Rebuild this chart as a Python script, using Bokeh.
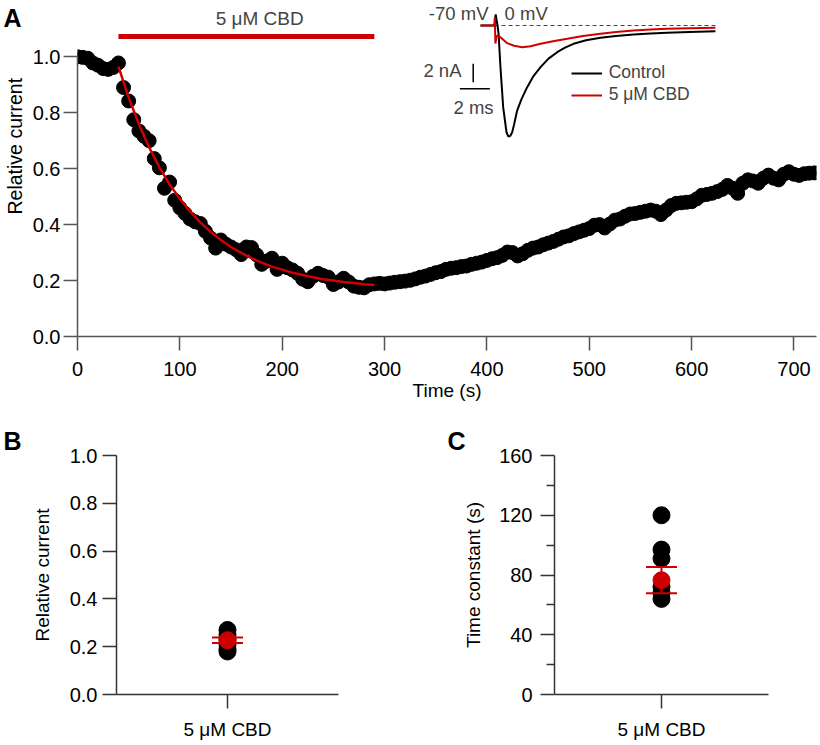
import math
from bokeh.plotting import figure
from bokeh.layouts import row, column
from bokeh.models import (Range1d, FixedTicker, Label, Legend, LegendItem, Whisker,
                          TeeHead, ColumnDataSource, NumeralTickFormatter, FactorRange)
from bokeh.core.properties import value
from bokeh.embed import file_html
from bokeh.resources import INLINE

# ---------------- data ----------------
time_s = [0, 5, 10, 15, 20, 25, 30, 35, 40, 45,
          50, 55, 60, 65, 70, 75, 80, 85, 90, 95,
          100, 105, 110, 115, 120, 125, 130, 135, 140, 145,
          150, 155, 160, 165, 170, 175, 180, 185, 190, 195,
          200, 205, 210, 215, 220, 225, 230, 235, 240, 245,
          250, 255, 260, 265, 270, 275, 280, 285, 290, 295,
          300, 305, 310, 315, 320, 325, 330, 335, 340, 345,
          350, 355, 360, 365, 370, 375, 380, 385, 390, 395,
          400, 405, 410, 415, 420, 425, 430, 435, 440, 445,
          450, 455, 460, 465, 470, 475, 480, 485, 490, 495,
          500, 505, 510, 515, 520, 525, 530, 535, 540, 545,
          550, 555, 560, 565, 570, 575, 580, 585, 590, 595,
          600, 605, 610, 615, 620, 625, 630, 635, 640, 645,
          650, 655, 660, 665, 670, 675, 680, 685, 690, 695,
          700, 705, 710, 715, 720]
rel_current = [1.000, 0.998, 0.995, 0.978, 0.970, 0.958, 0.955, 0.962, 0.978, 0.890,
               0.842, 0.775, 0.735, 0.716, 0.700, 0.636, 0.603, 0.530, 0.552, 0.487,
               0.460, 0.440, 0.420, 0.410, 0.404, 0.376, 0.352, 0.316, 0.345, 0.330,
               0.320, 0.310, 0.293, 0.320, 0.318, 0.292, 0.258, 0.270, 0.280, 0.240,
               0.262, 0.246, 0.238, 0.226, 0.205, 0.196, 0.215, 0.226, 0.218, 0.212,
               0.186, 0.195, 0.208, 0.195, 0.180, 0.176, 0.174, 0.185, 0.188, 0.190,
               0.188, 0.191, 0.194, 0.196, 0.198, 0.201, 0.206, 0.212, 0.216, 0.222,
               0.228, 0.232, 0.240, 0.244, 0.246, 0.250, 0.252, 0.258, 0.262, 0.266,
               0.272, 0.278, 0.282, 0.290, 0.302, 0.300, 0.288, 0.296, 0.308, 0.316,
               0.320, 0.328, 0.334, 0.340, 0.348, 0.356, 0.360, 0.368, 0.374, 0.380,
               0.386, 0.398, 0.400, 0.388, 0.402, 0.416, 0.420, 0.430, 0.438, 0.440,
               0.444, 0.448, 0.452, 0.448, 0.436, 0.452, 0.468, 0.476, 0.478, 0.480,
               0.482, 0.492, 0.505, 0.508, 0.512, 0.518, 0.526, 0.540, 0.530, 0.512,
               0.548, 0.560, 0.556, 0.548, 0.566, 0.577, 0.566, 0.560, 0.580, 0.589,
               0.580, 0.576, 0.582, 0.584, 0.585]

fit_time_s = [40, 50, 60, 70, 80, 90, 100, 110, 120, 130, 140, 150, 160,
              170, 180, 190, 200, 210, 220, 230, 240, 250, 260, 270, 280, 290]
fit_current = [0.965, 0.854, 0.759, 0.676, 0.605, 0.544, 0.492, 0.447, 0.408,
               0.374, 0.345, 0.320, 0.299, 0.280, 0.264, 0.250, 0.239, 0.228,
               0.220, 0.212, 0.205, 0.200, 0.195, 0.191, 0.187, 0.184]

cbd_application_s = [40, 290]
cbd_label = "5 μM CBD"

x_ticks = [0, 100, 200, 300, 400, 500, 600, 700]
y_ticks = [0.0, 0.2, 0.4, 0.6, 0.8, 1.0]

# inset current traces (ms, nA)
control_t_ms = [-0.93, 0.0, 0.08, 0.2, 0.27, 0.4, 0.58, 0.8, 0.93, 1.05, 1.18, 1.3,
                1.51, 1.8, 2.18, 2.6, 3.07, 3.6, 4.18, 4.7, 5.27, 6.1, 7.07, 8.1,
                9.27, 10.4, 11.5, 13.0, 14.73]
control_nA = [0.0, 0.0, 1.2, 0.0, -0.87, -4.57, -8.9, -11.6, -12.07, -12.0, -11.6,
              -10.8, -9.24, -8.0, -6.7, -5.5, -4.53, -3.6, -2.9, -2.4, -1.99, -1.6,
              -1.34, -1.14, -0.98, -0.87, -0.79, -0.7, -0.62]
cbd_t_ms = [-0.93, 0.0, 0.02, 0.06, 0.15, 0.4, 0.85, 1.3, 1.85, 2.4, 3.07, 3.9,
            4.85, 5.9, 7.07, 8.1, 9.27, 10.4, 11.5, 13.0, 14.73]
cbd_nA = [0.0, 0.0, 0.87, -1.96, -1.1, -1.27, -1.92, -2.2, -2.36, -2.25, -1.99,
          -1.7, -1.45, -1.15, -0.9, -0.7, -0.54, -0.44, -0.36, -0.3, -0.25]
scale_bar_ms = 2
scale_bar_nA = 2

# panels B and C
category = ["5 μM CBD"]
b_values = [0.27, 0.25, 0.23, 0.21, 0.19, 0.18]
b_mean = 0.227
b_sem = 0.012
b_ticks = [0.0, 0.2, 0.4, 0.6, 0.8, 1.0]

c_values = [120, 97, 91, 72, 68, 64]
c_mean = 76.5
c_sem = 8.8
c_major = [0, 40, 80, 120, 160]
c_minor = [20, 60, 100, 140]

# ---------------- style ----------------
FONT = "Liberation Sans"
RED = "#d00000"
DOT_RED = "#cc0000"
AX = "#555555"
FS = "19px"
TFS = "20px"


def style_axis(ax, standoff=6, label_standoff=6, color=AX):
    ax.axis_line_color = color
    ax.axis_line_width = 1.5
    ax.major_tick_line_color = color
    ax.major_tick_line_width = 1.5
    ax.minor_tick_line_color = color
    ax.minor_tick_line_width = 1.5
    ax.major_tick_out = 14
    ax.major_tick_in = 0
    ax.minor_tick_in = 0
    ax.minor_tick_out = 0
    ax.major_label_text_font = FONT
    ax.major_label_text_font_size = TFS
    ax.major_label_text_color = "black"
    ax.axis_label_text_font = FONT
    ax.axis_label_text_font_size = FS
    ax.axis_label_text_font_style = "normal"
    ax.axis_label_text_color = "black"
    ax.major_label_standoff = standoff
    ax.axis_label_standoff = label_standoff


# ---------------- panel A ----------------
X_END = 722
Y_END = 1.2013
A_FRAME_H = 336
pa = figure(frame_width=739, frame_height=A_FRAME_H, x_range=Range1d(0, X_END),
            y_range=Range1d(0, Y_END), output_backend="svg", toolbar_location=None,
            min_border_left=51, min_border_right=4, min_border_top=0, min_border_bottom=0)
pa.grid.visible = False
pa.outline_line_color = None
pa.xaxis.ticker = FixedTicker(ticks=x_ticks)
pa.yaxis.ticker = FixedTicker(ticks=y_ticks)
pa.yaxis.formatter = NumeralTickFormatter(format="0.0")
pa.yaxis.bounds = (0, 1)
pa.xaxis.axis_label = "Time (s)"
style_axis(pa.xaxis[0], standoff=11, label_standoff=1)
style_axis(pa.yaxis[0], standoff=3, label_standoff=4)

pa.scatter(time_s, rel_current, size=14, color="black")
pa.line(fit_time_s, fit_current, line_color=RED, line_width=2.5)
BAR_Y = 1.0726
pa.line(cbd_application_s, [BAR_Y, BAR_Y], line_color=DOT_RED, line_width=5)
pa.add_layout(Label(x=178, y=1.137, text=cbd_label, text_align="center",
                    text_baseline="middle", text_font=FONT, text_font_size=FS))

# inset placement (main coords of 0 ms / 0 nA and scale)
IN_X0, IN_SX = 407.4, 14.656     # s at 0 ms, s per ms
IN_Y0, IN_SY = 1.1119, 0.0329    # rel at 0 nA, rel per nA
pa.extra_x_ranges = {"ix": Range1d((0 - IN_X0) / IN_SX, (X_END - IN_X0) / IN_SX)}
pa.extra_y_ranges = {"iy": Range1d((0 - IN_Y0) / IN_SY, (Y_END - IN_Y0) / IN_SY)}
kw = dict(x_range_name="ix", y_range_name="iy")

pa.line([control_t_ms[0], control_t_ms[-1]], [0, 0], line_color="#444444",
        line_width=1, line_dash="4 3", **kw)
r_ctrl = pa.line(control_t_ms, control_nA, line_color="black", line_width=2, **kw)
r_cbd = pa.line(cbd_t_ms, cbd_nA, line_color=RED, line_width=2, **kw)
# scale bars
SB_X, SB_Y = -1.42, -4.16
pa.line([SB_X, SB_X], [SB_Y, SB_Y - scale_bar_nA], line_color="black", line_width=1.5, **kw)
HB_Y, HB_X = -6.88, -0.31
pa.line([HB_X - scale_bar_ms, HB_X], [HB_Y, HB_Y], line_color="black", line_width=1.5, **kw)
IFS = "18.5px"
pa.add_layout(Label(x=-2.2, y=-4.89, text=f"{scale_bar_nA} nA", text_align="right",
                    text_baseline="middle", text_font=FONT, text_font_size=IFS, **kw))
pa.add_layout(Label(x=-1.4, y=-8.91, text=f"{scale_bar_ms} ms", text_align="center",
                    text_baseline="middle", text_font=FONT, text_font_size=IFS, **kw))
pa.add_layout(Label(x=-0.4, y=1.30, text="-70 mV", text_align="right",
                    text_baseline="middle", text_font=FONT, text_font_size=IFS, **kw))
pa.add_layout(Label(x=0.67, y=1.30, text="0 mV", text_align="left",
                    text_baseline="middle", text_font=FONT, text_font_size=IFS, **kw))

legend = Legend(items=[LegendItem(label="Control", renderers=[r_ctrl]),
                       LegendItem(label=cbd_label, renderers=[r_cbd])],
                location=(493.7, 231), padding=0, margin=0, spacing=1,
                glyph_width=31, glyph_height=20, label_height=20, label_standoff=7,
                border_line_alpha=0, background_fill_alpha=0,
                label_text_font=FONT, label_text_font_size="17.5px")
pa.add_layout(legend)

# narrow strip left of panel A: panel letter and the y-axis title
ov = figure(width=26, height=A_FRAME_H, x_range=Range1d(0, 26),
            y_range=Range1d(A_FRAME_H, 0), output_backend="svg", toolbar_location=None,
            min_border=0, x_axis_location=None, y_axis_location=None)
ov.grid.visible = False
ov.outline_line_color = None
ov.text(x=[3], y=[4], text=["A"], text_baseline="top", text_align="left",
        text_font=value(FONT), text_font_size="25px", text_font_style="bold",
        text_color="black")
ov.text(x=[14], y=[182], text=["Relative current"], text_baseline="middle",
        text_align="center", angle=math.pi / 2, text_font=value(FONT),
        text_font_size="19.5px", text_color="black")


# ---------------- panels B and C ----------------
def dot_panel(values, mean, sem, y_end, ticks, minor, left, right, fw, ylabel,
              letter, letter_offset, label_standoff, tick_standoff, fmt):
    p = figure(frame_width=fw, frame_height=239, x_range=FactorRange(*category),
               y_range=Range1d(0, y_end), output_backend="svg", toolbar_location=None,
               min_border_left=left, min_border_right=right, min_border_top=52,
               min_border_bottom=0, title=letter)
    p.title.align = "left"
    p.title.offset = letter_offset
    p.title.standoff = 1
    p.title.text_font = FONT
    p.title.text_font_size = "25px"
    p.title.text_font_style = "bold"
    p.title.text_color = "black"
    p.grid.visible = False
    p.outline_line_color = None
    p.yaxis.ticker = FixedTicker(ticks=ticks, minor_ticks=minor)
    if fmt:
        p.yaxis.formatter = NumeralTickFormatter(format=fmt)
    p.yaxis.axis_label = ylabel
    style_axis(p.xaxis[0], standoff=10, label_standoff=4, color="#333333")
    p.xaxis.major_label_text_font_size = FS
    style_axis(p.yaxis[0], standoff=tick_standoff, label_standoff=label_standoff,
               color="#333333")
    if minor:
        p.yaxis.minor_tick_out = 8
    p.scatter([category[0]] * len(values), values, size=17, color="black")
    src = ColumnDataSource(dict(base=category, upper=[mean + sem], lower=[mean - sem]))
    w = Whisker(source=src, base="base", upper="upper", lower="lower",
                line_color=DOT_RED, line_width=2, level="overlay",
                upper_head=TeeHead(size=31, line_color=DOT_RED, line_width=2),
                lower_head=TeeHead(size=31, line_color=DOT_RED, line_width=2))
    p.add_layout(w)
    p.scatter(category, [mean], size=17, color=DOT_RED)
    return p


pb = dot_panel(b_values, b_mean, b_sem, 1.0, b_ticks, [], 116, 102, 222,
               "Relative current", "B", -113, 14, 5, "0.0")
pc = dot_panel(c_values, c_mean, c_sem, 160, c_major, c_minor, 114, 4, 214,
               "Time constant (s)", "C", -107, 12, 8, None)

layout = column(row(ov, pa), row(pb, pc))
open("out.html", "w").write(file_html(layout, INLINE))
